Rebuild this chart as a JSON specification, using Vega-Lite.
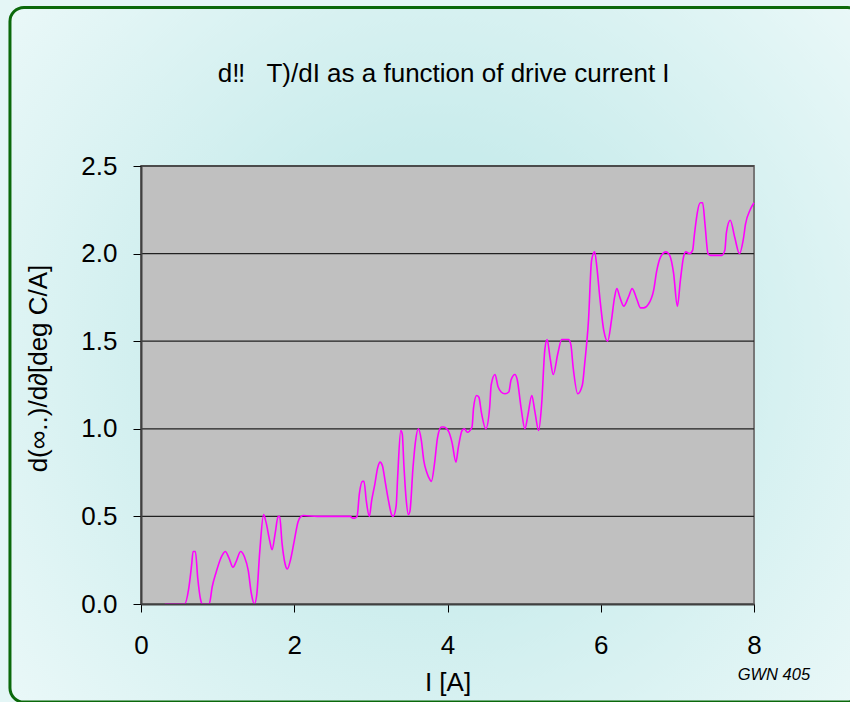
{
  "$schema": "https://vega.github.io/schema/vega-lite/v6.json",
  "width": 613,
  "height": 438,
  "autosize": {"type": "none"},
  "padding": {"left": 141, "top": 166, "right": 96, "bottom": 98},
  "background": "#e4f6f6",
  "datasets": {
    "curve": [
      {"current": 0.31, "dTdI": 0.0},
      {"current": 0.57, "dTdI": 0.0},
      {"current": 0.62, "dTdI": 0.08},
      {"current": 0.66, "dTdI": 0.22},
      {"current": 0.68, "dTdI": 0.30},
      {"current": 0.71, "dTdI": 0.30},
      {"current": 0.74, "dTdI": 0.15},
      {"current": 0.78, "dTdI": 0.02},
      {"current": 0.80, "dTdI": 0.0},
      {"current": 0.89, "dTdI": 0.0},
      {"current": 0.93, "dTdI": 0.10},
      {"current": 0.98, "dTdI": 0.18},
      {"current": 1.04, "dTdI": 0.26},
      {"current": 1.10, "dTdI": 0.30},
      {"current": 1.15, "dTdI": 0.26},
      {"current": 1.20, "dTdI": 0.21},
      {"current": 1.24, "dTdI": 0.24},
      {"current": 1.30, "dTdI": 0.30},
      {"current": 1.35, "dTdI": 0.27},
      {"current": 1.40, "dTdI": 0.19},
      {"current": 1.44, "dTdI": 0.06},
      {"current": 1.48, "dTdI": 0.0},
      {"current": 1.51, "dTdI": 0.05},
      {"current": 1.55, "dTdI": 0.30},
      {"current": 1.60, "dTdI": 0.51},
      {"current": 1.63, "dTdI": 0.47},
      {"current": 1.68, "dTdI": 0.36},
      {"current": 1.71, "dTdI": 0.31},
      {"current": 1.75, "dTdI": 0.40},
      {"current": 1.79, "dTdI": 0.50},
      {"current": 1.81, "dTdI": 0.50},
      {"current": 1.84, "dTdI": 0.35},
      {"current": 1.88, "dTdI": 0.23},
      {"current": 1.91, "dTdI": 0.20},
      {"current": 1.95, "dTdI": 0.25},
      {"current": 2.00, "dTdI": 0.36},
      {"current": 2.05, "dTdI": 0.47},
      {"current": 2.09, "dTdI": 0.50},
      {"current": 2.12, "dTdI": 0.505},
      {"current": 2.30, "dTdI": 0.50},
      {"current": 2.50, "dTdI": 0.50},
      {"current": 2.73, "dTdI": 0.50},
      {"current": 2.76, "dTdI": 0.49},
      {"current": 2.79, "dTdI": 0.49},
      {"current": 2.82, "dTdI": 0.50},
      {"current": 2.85, "dTdI": 0.63},
      {"current": 2.89, "dTdI": 0.70},
      {"current": 2.91, "dTdI": 0.70},
      {"current": 2.94, "dTdI": 0.59},
      {"current": 2.98, "dTdI": 0.50},
      {"current": 3.01, "dTdI": 0.59},
      {"current": 3.05, "dTdI": 0.68},
      {"current": 3.09, "dTdI": 0.78},
      {"current": 3.12, "dTdI": 0.81},
      {"current": 3.15, "dTdI": 0.79},
      {"current": 3.19, "dTdI": 0.69},
      {"current": 3.23, "dTdI": 0.59},
      {"current": 3.27, "dTdI": 0.51},
      {"current": 3.29, "dTdI": 0.50},
      {"current": 3.33, "dTdI": 0.56},
      {"current": 3.35, "dTdI": 0.73},
      {"current": 3.39, "dTdI": 0.99},
      {"current": 3.41, "dTdI": 0.97},
      {"current": 3.43, "dTdI": 0.80},
      {"current": 3.46, "dTdI": 0.60},
      {"current": 3.49, "dTdI": 0.51},
      {"current": 3.51, "dTdI": 0.53},
      {"current": 3.55, "dTdI": 0.78},
      {"current": 3.58, "dTdI": 0.92},
      {"current": 3.62, "dTdI": 1.00},
      {"current": 3.66, "dTdI": 0.93},
      {"current": 3.69, "dTdI": 0.82},
      {"current": 3.73, "dTdI": 0.75},
      {"current": 3.77, "dTdI": 0.71},
      {"current": 3.79, "dTdI": 0.70},
      {"current": 3.83, "dTdI": 0.80},
      {"current": 3.87, "dTdI": 0.95},
      {"current": 3.92, "dTdI": 1.01},
      {"current": 3.95, "dTdI": 1.01},
      {"current": 3.99, "dTdI": 1.00},
      {"current": 4.02, "dTdI": 0.98},
      {"current": 4.06, "dTdI": 0.92},
      {"current": 4.11, "dTdI": 0.81},
      {"current": 4.14, "dTdI": 0.89},
      {"current": 4.19, "dTdI": 0.99},
      {"current": 4.22, "dTdI": 1.00},
      {"current": 4.26, "dTdI": 0.98},
      {"current": 4.32, "dTdI": 1.01},
      {"current": 4.34, "dTdI": 1.12},
      {"current": 4.38, "dTdI": 1.19},
      {"current": 4.41, "dTdI": 1.18},
      {"current": 4.44, "dTdI": 1.10},
      {"current": 4.50, "dTdI": 1.00},
      {"current": 4.55, "dTdI": 1.12},
      {"current": 4.57, "dTdI": 1.25},
      {"current": 4.62, "dTdI": 1.31},
      {"current": 4.66, "dTdI": 1.24},
      {"current": 4.70, "dTdI": 1.21},
      {"current": 4.75, "dTdI": 1.20},
      {"current": 4.80, "dTdI": 1.21},
      {"current": 4.83, "dTdI": 1.28},
      {"current": 4.88, "dTdI": 1.31},
      {"current": 4.91, "dTdI": 1.28},
      {"current": 4.96, "dTdI": 1.12},
      {"current": 5.01, "dTdI": 1.00},
      {"current": 5.05, "dTdI": 1.08},
      {"current": 5.10, "dTdI": 1.19},
      {"current": 5.14, "dTdI": 1.10},
      {"current": 5.19, "dTdI": 0.99},
      {"current": 5.23, "dTdI": 1.15},
      {"current": 5.27, "dTdI": 1.45},
      {"current": 5.30, "dTdI": 1.51},
      {"current": 5.34, "dTdI": 1.40},
      {"current": 5.38, "dTdI": 1.31},
      {"current": 5.44, "dTdI": 1.43},
      {"current": 5.49, "dTdI": 1.51},
      {"current": 5.54, "dTdI": 1.51},
      {"current": 5.58, "dTdI": 1.51},
      {"current": 5.61, "dTdI": 1.48},
      {"current": 5.64, "dTdI": 1.35},
      {"current": 5.70, "dTdI": 1.20},
      {"current": 5.76, "dTdI": 1.25},
      {"current": 5.79, "dTdI": 1.37},
      {"current": 5.84, "dTdI": 1.62},
      {"current": 5.88, "dTdI": 1.96},
      {"current": 5.92, "dTdI": 2.01},
      {"current": 5.95, "dTdI": 1.92},
      {"current": 5.99, "dTdI": 1.74},
      {"current": 6.04, "dTdI": 1.56},
      {"current": 6.09, "dTdI": 1.50},
      {"current": 6.14, "dTdI": 1.62},
      {"current": 6.18, "dTdI": 1.75},
      {"current": 6.21, "dTdI": 1.80},
      {"current": 6.25, "dTdI": 1.75},
      {"current": 6.30, "dTdI": 1.70},
      {"current": 6.36, "dTdI": 1.75},
      {"current": 6.41, "dTdI": 1.80},
      {"current": 6.47, "dTdI": 1.74},
      {"current": 6.52, "dTdI": 1.69},
      {"current": 6.56, "dTdI": 1.69},
      {"current": 6.62, "dTdI": 1.71},
      {"current": 6.69, "dTdI": 1.79},
      {"current": 6.73, "dTdI": 1.90},
      {"current": 6.78, "dTdI": 1.98},
      {"current": 6.85, "dTdI": 2.01},
      {"current": 6.90, "dTdI": 1.99},
      {"current": 6.95, "dTdI": 1.89},
      {"current": 7.00, "dTdI": 1.70},
      {"current": 7.04, "dTdI": 1.85},
      {"current": 7.08, "dTdI": 1.98},
      {"current": 7.11, "dTdI": 2.01},
      {"current": 7.16, "dTdI": 2.00},
      {"current": 7.20, "dTdI": 2.02},
      {"current": 7.22, "dTdI": 2.10},
      {"current": 7.30, "dTdI": 2.29},
      {"current": 7.33, "dTdI": 2.29},
      {"current": 7.36, "dTdI": 2.17},
      {"current": 7.40, "dTdI": 2.00},
      {"current": 7.43, "dTdI": 1.99},
      {"current": 7.58, "dTdI": 1.99},
      {"current": 7.62, "dTdI": 2.02},
      {"current": 7.64, "dTdI": 2.12},
      {"current": 7.69, "dTdI": 2.19},
      {"current": 7.75, "dTdI": 2.09},
      {"current": 7.81, "dTdI": 2.00},
      {"current": 7.86, "dTdI": 2.08},
      {"current": 7.89, "dTdI": 2.17},
      {"current": 7.95, "dTdI": 2.25},
      {"current": 8.00, "dTdI": 2.29}
    ],
    "gridlines": [
      {"level": 0.5},
      {"level": 1.0},
      {"level": 1.5},
      {"level": 2.0},
      {"level": 2.5}
    ],
    "heading": [
      {"label": "d‼\u00a0\u00a0 T)/dI as a function of drive current I"}
    ],
    "note": [
      {"label": "GWN 405"}
    ]
  },
  "layer": [
    {
      "data": {"values": [{}]},
      "mark": {
        "type": "rect",
        "clip": false,
        "cornerRadius": 14,
        "stroke": "#0b690b",
        "strokeWidth": 3,
        "color": {
          "gradient": "radial",
          "x1": 0.5, "y1": 0.5, "r1": 0,
          "x2": 0.5, "y2": 0.5, "r2": 0.75,
          "stops": [
            {"offset": 0, "color": "#b6e5e5"},
            {"offset": 1, "color": "#f2fbfb"}
          ]
        }
      },
      "encoding": {
        "x": {"datum": -1.71, "scale": {"domain": [0, 8], "nice": false, "zero": false}},
        "x2": {"datum": 9.4},
        "y": {"datum": 3.405, "scale": {"domain": [0, 2.5], "nice": false, "zero": false}},
        "y2": {"datum": -0.56}
      }
    },
    {
      "data": {"values": [{}]},
      "mark": {"type": "rect", "fill": "#c0c0c0", "stroke": "#777777", "strokeWidth": 2},
      "encoding": {
        "x": {"datum": 0},
        "x2": {"datum": 8},
        "y": {"datum": 0},
        "y2": {"datum": 2.5}
      }
    },
    {
      "data": {"name": "gridlines"},
      "mark": {"type": "rule", "color": "#202020", "strokeWidth": 1.2},
      "encoding": {
        "y": {"field": "level", "type": "quantitative"}
      }
    },
    {
      "data": {"name": "curve"},
      "mark": {"type": "line", "color": "#ff00ff", "strokeWidth": 1.6, "interpolate": "monotone"},
      "encoding": {
        "x": {
          "field": "current",
          "type": "quantitative",
          "axis": {
            "title": "I [A]",
            "values": [0, 2, 4, 6, 8],
            "format": "d",
            "labelFlush": false,
            "grid": false,
            "zindex": 1,
            "domainColor": "#404040",
            "domainWidth": 2,
            "tickColor": "#000000",
            "tickSize": 8,
            "labelPadding": 20,
            "titleBaseline": "alphabetic",
            "titleY": 86
          }
        },
        "y": {
          "field": "dTdI",
          "type": "quantitative",
          "axis": {
            "title": "d(∞..)/d∂[deg C/A]",
            "values": [0, 0.5, 1, 1.5, 2, 2.5],
            "format": ".1f",
            "labelFlush": false,
            "grid": false,
            "zindex": 1,
            "domainColor": "#404040",
            "domainWidth": 2,
            "tickColor": "#000000",
            "tickSize": 8,
            "labelPadding": 16,
            "titleBaseline": "middle",
            "titleX": -103,
            "titleY": 202
          }
        }
      }
    },
    {
      "data": {"name": "heading"},
      "mark": {"type": "text", "clip": false, "font": "Liberation Sans", "fontSize": 26, "color": "#000000", "align": "center", "baseline": "alphabetic"},
      "encoding": {
        "text": {"field": "label"},
        "x": {"datum": 3.95},
        "y": {"datum": 2.979}
      }
    },
    {
      "data": {"name": "note"},
      "mark": {"type": "text", "clip": false, "font": "Liberation Sans", "fontSize": 16.5, "fontStyle": "italic", "color": "#000000", "align": "center", "baseline": "middle"},
      "encoding": {
        "text": {"field": "label"},
        "x": {"datum": 8.26},
        "y": {"datum": -0.405}
      }
    }
  ],
  "config": {
    "font": "Liberation Sans",
    "view": {"stroke": null},
    "axis": {
      "labelFont": "Liberation Sans",
      "labelFontSize": 26,
      "labelColor": "#000000",
      "titleFont": "Liberation Sans",
      "titleFontSize": 26,
      "titleFontWeight": "normal",
      "titleColor": "#000000"
    }
  }
}
